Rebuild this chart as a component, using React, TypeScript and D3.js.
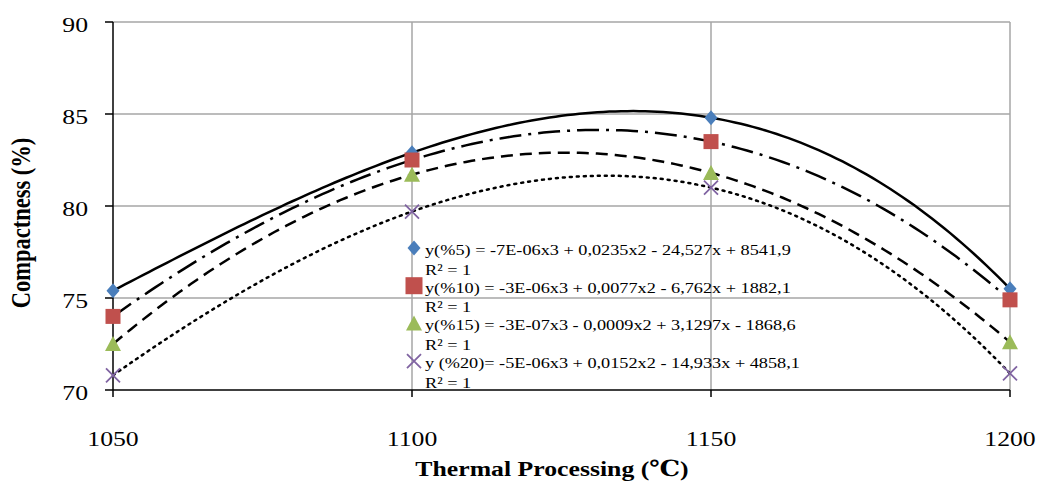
import React from "react";
import * as d3 from "d3";

const temps = [1050, 1100, 1150, 1200];
const s5 = [75.4, 82.9, 84.8, 75.5];
const s10 = [74.0, 82.5, 83.5, 74.9];
const s15 = [72.5, 81.7, 81.8, 72.6];
const s20 = [70.8, 79.7, 81.0, 70.9];
const yTicks = [70, 75, 80, 85, 90];

const equations = [
  "y(%5) = -7E-06x3 + 0,0235x2 - 24,527x + 8541,9",
  "y(%10) = -3E-06x3 + 0,0077x2 - 6,762x + 1882,1",
  "y(%15) = -3E-07x3 - 0,0009x2 + 3,1297x - 1868,6",
  "y (%20)= -5E-06x3 + 0,0152x2 - 14,933x + 4858,1",
];

const series = [
  { values: s5, color: "#4a7ebb", marker: "diamond", dash: "none" },
  { values: s10, color: "#c0504d", marker: "square", dash: "22,7,3,7" },
  { values: s15, color: "#9bbb59", marker: "triangle", dash: "12,7" },
  { values: s20, color: "#8064a2", marker: "x", dash: "2,5" },
];

const font = '"Times New Roman", "Liberation Serif", "DejaVu Serif", serif';
const SX = 1.17; // the original picture is stretched sideways

// cubic trendline through the four points (R² = 1)
function cubic(xs: number[], ys: number[]) {
  return (x: number) => {
    let s = 0;
    for (let i = 0; i < xs.length; i++) {
      let t = ys[i];
      for (let j = 0; j < xs.length; j++) if (j !== i) t *= (x - xs[j]) / (xs[i] - xs[j]);
      s += t;
    }
    return s;
  };
}

function T({ x, y, size, anchor = "start", bold, rotate, children }: any) {
  const tf = rotate
    ? `translate(${x},${y}) rotate(-90) scale(1,${SX})`
    : `translate(${x},${y}) scale(${SX},1)`;
  return (
    <g transform={tf}>
      <text fontSize={size} textAnchor={anchor} fontWeight={bold ? "bold" : "normal"} fontFamily={font}>
        {children}
      </text>
    </g>
  );
}

function Marker({ type, x, y, color, big }: { type: string; x: number; y: number; color: string; big?: boolean }) {
  if (type === "diamond")
    return <path d={`M${x},${y - 7.5}L${x + 6.5},${y}L${x},${y + 7.5}L${x - 6.5},${y}Z`} fill={color} />;
  if (type === "square") {
    const h = big ? 8.5 : 7.5;
    return <rect x={x - h} y={y - h} width={2 * h} height={2 * h} fill={color} />;
  }
  if (type === "triangle")
    return <path d={`M${x},${y - 8}L${x + 8},${y + 7}L${x - 8},${y + 7}Z`} fill={color} />;
  return (
    <path d={`M${x - 7},${y - 7}L${x + 7},${y + 7}M${x + 7},${y - 7}L${x - 7},${y + 7}`} stroke={color} strokeWidth={1.8} />
  );
}

export default function App() {
  const width = 1038;
  const height = 482;
  const x = d3.scaleLinear().domain([1050, 1200]).range([113, 1010]);
  const y = d3.scaleLinear().domain([70, 90]).range([390, 22]);
  const samples = d3.range(1050, 1200.5, 1);
  const line = d3
    .line<number[]>()
    .x((d) => x(d[0]))
    .y((d) => y(d[1]));

  return (
    <svg width={width} height={height} style={{ position: "absolute", left: 0, top: 0, background: "#fff" }}>
      {/* grid */}
      {yTicks.slice(1).map((t) => (
        <line key={t} x1={113} x2={1010} y1={y(t)} y2={y(t)} stroke="#a6a6a6" strokeWidth={1.5} />
      ))}
      {temps.slice(1).map((t) => (
        <line key={t} x1={x(t)} x2={x(t)} y1={22} y2={390} stroke="#a6a6a6" strokeWidth={1.5} />
      ))}
      {/* axes */}
      <line x1={113} x2={113} y1={22} y2={390} stroke="#000" strokeWidth={1.5} />
      <line x1={113} x2={1010} y1={390} y2={390} stroke="#000" strokeWidth={1.5} />
      {yTicks.map((t) => (
        <g key={t}>
          <line x1={105} x2={113} y1={y(t)} y2={y(t)} stroke="#000" strokeWidth={1.5} />
          <T x={88} y={y(t) + 9.5} size={22} anchor="end">
            {t}
          </T>
        </g>
      ))}
      {temps.map((t) => (
        <g key={t}>
          <line x1={x(t)} x2={x(t)} y1={390} y2={397} stroke="#000" strokeWidth={1.5} />
          <T x={x(t)} y={446} size={22} anchor="middle">
            {t}
          </T>
        </g>
      ))}
      {/* trendlines */}
      {series.map((s, i) => {
        const f = cubic(temps, s.values);
        return (
          <path
            key={i}
            d={line(samples.map((v) => [v, f(v)])) || ""}
            fill="none"
            stroke="#000"
            strokeWidth={2.5}
            strokeDasharray={s.dash}
            strokeLinecap={s.marker === "x" ? "round" : "butt"}
          />
        );
      })}
      {/* markers */}
      {series.map((s, i) =>
        s.values.map((v, j) => <Marker key={`${i}-${j}`} type={s.marker} x={x(temps[j])} y={y(v)} color={s.color} />)
      )}
      {/* legend */}
      {equations.map((eq, i) => (
        <g key={i}>
          <Marker type={series[i].marker} x={414} y={248 + i * 37.7} color={series[i].color} big />
          <T x={425} y={255 + i * 37.7} size={15.6}>
            {eq}
          </T>
          <T x={425} y={274.5 + i * 37.7} size={15.6}>
            R² = 1
          </T>
        </g>
      ))}
      {/* axis titles */}
      <T x={30} y={223} size={22.5} anchor="middle" bold rotate>
        Compactness (%)
      </T>
      <T x={552} y={476} size={22} anchor="middle" bold>
        Thermal Processing (℃)
      </T>
    </svg>
  );
}
